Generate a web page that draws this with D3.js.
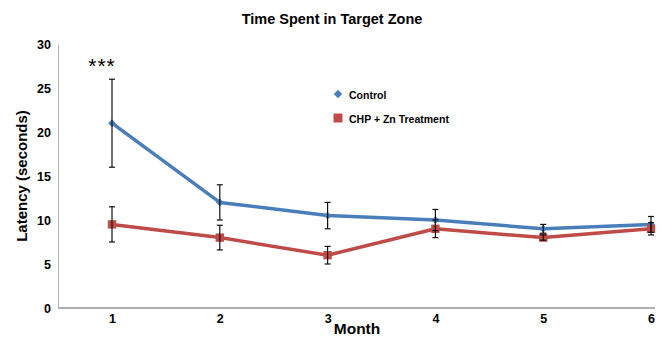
<!DOCTYPE html>
<html>
<head>
<meta charset="utf-8">
<script src="https://cdn.jsdelivr.net/npm/d3@7/dist/d3.min.js"></script>
<style>
  html, body { margin: 0; padding: 0; background: #fff; }
  svg { display: block; font-family: "Liberation Sans", Arial, Helvetica, sans-serif; }
</style>
</head>
<body>
<svg id="chart" width="665" height="341"></svg>
<script>
// Months on the x axis
const months = ["1", "2", "3", "4", "5", "6"];
// Mean latency (seconds) per month
const controlMean = [21, 12, 10.5, 10, 9, 9.5];
const controlErr = [5, 2, 1.5, 1.2, 0.5, 0.9];
const treatMean = [9.5, 8, 6, 9, 8, 9];
const treatErr = [2, 1.4, 1, 1, 0.3, 0.7];
const yTicks = [0, 5, 10, 15, 20, 25, 30];

const series = [
  { name: "Control", mean: controlMean, err: controlErr, color: "#4a7ebb", marker: "diamond" },
  { name: "CHP + Zn Treatment", mean: treatMean, err: treatErr, color: "#be4b48", marker: "square" }
];

const svg = d3.select("#chart");
const plotLeft = 58, plotTop = 44, plotBottom = 308;

const x = d3.scalePoint().domain(months).range([112, 651]);
const y = d3.scaleLinear().domain([0, 30]).range([plotBottom, plotTop]);

// Marker shapes: a 45°-rotated square for Control, a plain square for treatment
function markerPath(kind, size) {
  return d3.symbol().type(d3.symbolSquare).size(size)();
}
function markerRot(kind) { return kind === "diamond" ? " rotate(45)" : ""; }

// Title
svg.append("text")
  .attr("x", 332).attr("y", 24)
  .attr("text-anchor", "middle")
  .attr("font-size", 14.5).attr("font-weight", "bold")
  .text("Time Spent in Target Zone");

// Y axis
const yAxis = svg.append("g").attr("transform", `translate(${plotLeft},0)`)
  .call(d3.axisLeft(y).tickValues(yTicks).tickSize(0).tickPadding(7));
yAxis.select(".domain").attr("stroke", "#b0b0b0").attr("stroke-width", 1);
yAxis.selectAll("text").attr("font-size", 12.5).attr("font-weight", "bold")
  .attr("font-family", "Liberation Sans, Arial, sans-serif").attr("fill", "#000");

// X axis
const xAxis = svg.append("g").attr("transform", `translate(0,${plotBottom})`)
  .call(d3.axisBottom(x).tickSize(0).tickPadding(6));
xAxis.select(".domain").attr("d", `M${plotLeft},0H655`).attr("stroke", "#b0b0b0").attr("stroke-width", 2);
xAxis.selectAll("text").attr("font-size", 12.5).attr("font-weight", "bold")
  .attr("font-family", "Liberation Sans, Arial, sans-serif").attr("fill", "#000");

// Axis titles
svg.append("text")
  .attr("transform", `translate(27,${(plotTop + plotBottom) / 2}) rotate(-90)`)
  .attr("text-anchor", "middle")
  .attr("font-size", 15).attr("font-weight", "bold")
  .text("Latency (seconds)");
svg.append("text")
  .attr("x", 357).attr("y", 334)
  .attr("text-anchor", "middle")
  .attr("font-size", 15.5).attr("font-weight", "bold")
  .text("Month");

// Lines and markers
const line = d3.line().x((d, i) => x(months[i])).y(d => y(d));
series.forEach(s => {
  const g = svg.append("g");
  g.append("path").datum(s.mean)
    .attr("d", line).attr("fill", "none")
    .attr("stroke", s.color).attr("stroke-width", 3.5).attr("stroke-linejoin", "round");
  const size = s.marker === "diamond" ? 30 : 70;
  g.selectAll("path.m").data(s.mean).enter().append("path").attr("class", "m")
    .attr("transform", (d, i) => `translate(${x(months[i])},${y(d)})${markerRot(s.marker)}`)
    .attr("d", markerPath(s.marker, size)).attr("fill", s.color);
});

// Error bars
series.forEach(s => {
  const g = svg.append("g").attr("stroke", "#111").attr("stroke-width", 1.2);
  s.mean.forEach((m, i) => {
    const cx = x(months[i]);
    const y0 = y(m - s.err[i]), y1 = y(m + s.err[i]);
    g.append("line").attr("x1", cx).attr("x2", cx).attr("y1", y0).attr("y2", y1);
    g.append("line").attr("x1", cx - 3).attr("x2", cx + 3).attr("y1", y0).attr("y2", y0);
    g.append("line").attr("x1", cx - 3).attr("x2", cx + 3).attr("y1", y1).attr("y2", y1);
  });
});

// Significance marker
svg.append("text")
  .attr("x", x("1") - 10).attr("y", 73)
  .attr("text-anchor", "middle")
  .attr("font-size", 21)
  .attr("letter-spacing", 1)
  .text("***");

// Legend
const legend = svg.append("g");
series.forEach((s, i) => {
  const ly = 95 + i * 24;
  const size = s.marker === "diamond" ? 36 : 80;
  legend.append("path").attr("transform", `translate(338,${ly - 1})${markerRot(s.marker)}`)
    .attr("d", markerPath(s.marker, size)).attr("fill", s.color);
  legend.append("text").attr("x", 349).attr("y", ly + 3.5)
    .attr("font-size", 10.5).attr("font-weight", "bold")
    .text(s.name);
});
</script>
</body>
</html>
